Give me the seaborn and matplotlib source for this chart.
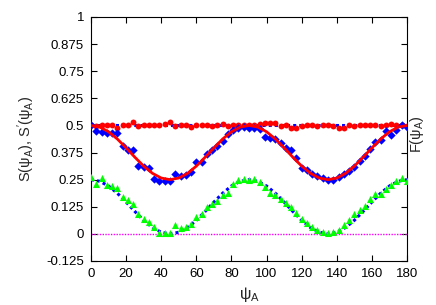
import pandas as pd
import matplotlib
matplotlib.use("Agg")
import matplotlib.pyplot as plt
import seaborn as sns

# scattered simulation data, every 3 degrees from 0 to 180
psi_pts = list(range(0, 181, 3))

s_circles = [0.500, 0.497, 0.503, 0.503, 0.503, 0.490, 0.500, 0.503, 0.515, 0.497,
             0.503, 0.500, 0.503, 0.500, 0.507, 0.517, 0.497, 0.500, 0.500, 0.493,
             0.500, 0.500, 0.503, 0.497, 0.503, 0.507, 0.497, 0.500, 0.503, 0.500,
             0.500, 0.503, 0.507, 0.510, 0.513, 0.510, 0.497, 0.500, 0.490, 0.490,
             0.497, 0.503, 0.500, 0.497, 0.500, 0.503, 0.497, 0.490, 0.490, 0.500,
             0.497, 0.503, 0.500, 0.500, 0.503, 0.497, 0.500, 0.507, 0.503, 0.500,
             0.497]

s_diamonds = [0.502, 0.476, 0.468, 0.465, 0.467, 0.464, 0.405, 0.387, 0.387, 0.313,
              0.310, 0.305, 0.255, 0.244, 0.246, 0.246, 0.275, 0.268, 0.272, 0.287,
              0.333, 0.333, 0.370, 0.385, 0.405, 0.430, 0.462, 0.478, 0.490, 0.492,
              0.490, 0.490, 0.482, 0.445, 0.440, 0.438, 0.420, 0.395, 0.385, 0.348,
              0.303, 0.295, 0.278, 0.268, 0.257, 0.250, 0.248, 0.262, 0.278, 0.288,
              0.310, 0.338, 0.360, 0.390, 0.425, 0.435, 0.475, 0.456, 0.480, 0.500,
              0.492]

f_triangles = [0.264, 0.229, 0.257, 0.226, 0.220, 0.210, 0.172, 0.155, 0.140, 0.090,
               0.070, 0.055, 0.030, 0.003, 0.003, 0.003, 0.041, 0.025, 0.033, 0.045,
               0.080, 0.090, 0.125, 0.137, 0.150, 0.180, 0.187, 0.230, 0.250, 0.255,
               0.250, 0.252, 0.238, 0.215, 0.190, 0.180, 0.160, 0.141, 0.126, 0.095,
               0.070, 0.050, 0.030, 0.018, 0.008, 0.005, 0.008, 0.020, 0.040, 0.065,
               0.090, 0.110, 0.130, 0.160, 0.183, 0.183, 0.205, 0.225, 0.245, 0.257,
               0.245]

# fitted curves, every 5 degrees
psi_fit = list(range(0, 181, 5))
s_fit = [0.5, 0.4925, 0.4708, 0.4375, 0.3967, 0.3533, 0.3125, 0.2792, 0.2575, 0.25,
         0.2575, 0.2792, 0.3125, 0.3533, 0.3967, 0.4375, 0.4708, 0.4925, 0.5,
         0.4925, 0.4708, 0.4375, 0.3967, 0.3533, 0.3125, 0.2792, 0.2575, 0.25,
         0.2575, 0.2792, 0.3125, 0.3533, 0.3967, 0.4375, 0.4708, 0.4925, 0.5]
f_fit = [0.25, 0.2425, 0.2208, 0.1875, 0.1467, 0.1033, 0.0625, 0.0292, 0.0075, 0.0,
         0.0075, 0.0292, 0.0625, 0.1033, 0.1467, 0.1875, 0.2208, 0.2425, 0.25,
         0.2425, 0.2208, 0.1875, 0.1467, 0.1033, 0.0625, 0.0292, 0.0075, 0.0,
         0.0075, 0.0292, 0.0625, 0.1033, 0.1467, 0.1875, 0.2208, 0.2425, 0.25]
upper_level = [0.5] * len(psi_fit)
zero_level = [0.0] * len(psi_fit)

y_ticks = [-0.125, 0, 0.125, 0.25, 0.375, 0.5, 0.625, 0.75, 0.875, 1]
y_labels = ["-0.125", "0", "0.125", "0.25", "0.375", "0.5", "0.625", "0.75", "0.875", "1"]
x_ticks = list(range(0, 181, 20))

pts = pd.DataFrame({"psi": psi_pts, "circ": s_circles, "diam": s_diamonds, "tri": f_triangles})
fit = pd.DataFrame({"psi": psi_fit, "s": s_fit, "f": f_fit, "up": upper_level, "zero": zero_level})

sns.set_style("ticks")
plt.rcParams["font.family"] = ["Liberation Sans", "DejaVu Sans"]
plt.rcParams["mathtext.fontset"] = "custom"
plt.rcParams["mathtext.rm"] = "Liberation Sans"
plt.rcParams["mathtext.it"] = "Liberation Sans"
plt.rcParams["font.size"] = 9

fig = plt.figure(figsize=(4.36, 3.05), dpi=100)
ax = fig.add_axes([0.2087, 0.1443, 0.7248, 0.8])

dotted = (0, (1, 1))
sns.lineplot(data=fit, x="psi", y="zero", ax=ax, color="#ff00ff", lw=1, linestyle=dotted)
sns.lineplot(data=fit, x="psi", y="up", ax=ax, color="#0000ff", lw=2.2, linestyle=dotted)
sns.lineplot(data=fit, x="psi", y="f", ax=ax, color="#0000ff", lw=2.2, linestyle=dotted)

sns.scatterplot(data=pts, x="psi", y="circ", ax=ax, color="#ff0000", marker="o", s=18,
                linewidth=0, zorder=3)
sns.scatterplot(data=pts, x="psi", y="diam", ax=ax, color="#0000ff", marker="D", s=18,
                linewidth=0, zorder=3)
sns.scatterplot(data=pts, x="psi", y="tri", ax=ax, color="#00ff00", marker="^", s=26,
                linewidth=0, zorder=3)
sns.lineplot(data=fit, x="psi", y="s", ax=ax, color="#ff0000", lw=2, zorder=4)

ax.set_xlim(0, 180)
ax.set_ylim(-0.125, 1)
ax.set_xticks(x_ticks)
ax.set_yticks(y_ticks)
ax.set_yticklabels(y_labels)
ax.tick_params(direction="in", length=4, width=0.8, top=True, right=True,
               labelsize=9.5, colors="black", pad=5)
for sp in ax.spines.values():
    sp.set_visible(True)
    sp.set_linewidth(0.8)
    sp.set_color("black")

ax.set_xlabel(r"$\psi_{\rm A}$", fontsize=11.5, labelpad=4)
ax.set_ylabel(r"S($\psi_{\rm A}$), S$'$($\psi_{\rm A}$)", fontsize=10.5, labelpad=7)
fig.text(0.957, 0.56, r"F($\psi_{\rm A}$)", rotation=90, ha="center", va="center", fontsize=10.5)

fig.savefig("out.png", dpi=100)
